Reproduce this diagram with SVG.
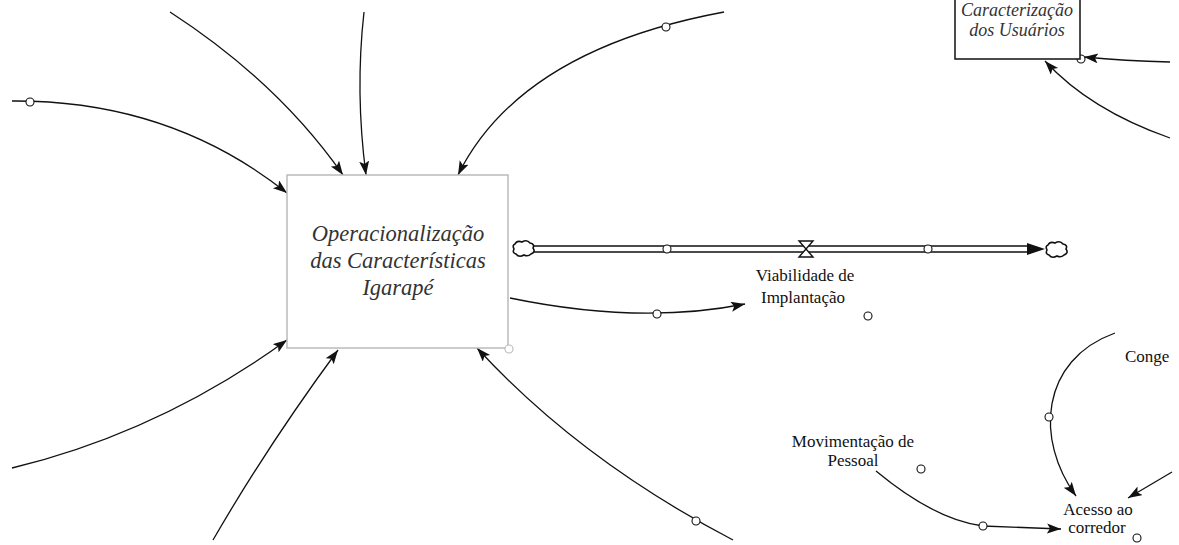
<svg xmlns="http://www.w3.org/2000/svg" width="1179" height="545" viewBox="0 0 1179 545">
<style>
.lnk{fill:none;stroke:#111;stroke-width:1.3}
.dot{fill:#fff;stroke:#111;stroke-width:1.1}
.var{font-family:"Liberation Serif","Times New Roman",serif;font-size:17px;fill:#111;text-anchor:middle}
.lvl{font-family:"Liberation Serif","Times New Roman",serif;font-style:italic;fill:#333;text-anchor:middle}
.pipe{fill:none;stroke:#111;stroke-width:1.4}
.cloud{fill:#fff;stroke:#111;stroke-width:1.6}
</style>
<defs>
<marker id="ah" markerUnits="userSpaceOnUse" markerWidth="16" markerHeight="12" refX="14" refY="5" orient="auto">
<path d="M0,0 L14,5 L0,10 L3,5 Z" fill="#111"/>
</marker>
</defs>
<rect width="1179" height="545" fill="#fff"/>

<g id="connectors">
<path class="lnk" d="M12,101 Q170,100 287,193" marker-end="url(#ah)"/>
<path class="lnk" d="M170,12 Q278,82 343,175" marker-end="url(#ah)"/>
<path class="lnk" d="M364,12 Q355,92 366,175" marker-end="url(#ah)"/>
<path class="lnk" d="M724,12 Q520,50 458,175" marker-end="url(#ah)"/>
<path class="lnk" d="M12,468 Q160,432 287,340" marker-end="url(#ah)"/>
<path class="lnk" d="M213,540 Q268,445 338,350" marker-end="url(#ah)"/>
<path class="lnk" d="M733,540 Q580,460 477,348" marker-end="url(#ah)"/>
<path class="lnk" d="M510,298 Q640,325 745,304" marker-end="url(#ah)"/>
<path class="lnk" d="M1170,62 Q1125,61 1084,57" marker-end="url(#ah)"/>
<path class="lnk" d="M1170,138 Q1090,110 1045,61" marker-end="url(#ah)"/>
<path class="lnk" d="M1115,333 C1040,360 1035,440 1076,496" marker-end="url(#ah)"/>
<path class="lnk" d="M876,471 Q935,520 983,526 L1061,529" marker-end="url(#ah)"/>
<path class="lnk" d="M1172,472 L1128,498" marker-end="url(#ah)"/>
<circle class="dot" cx="30" cy="102" r="4"/>
<circle class="dot" cx="666" cy="27" r="4"/>
<circle class="dot" cx="696" cy="521" r="4"/>
<circle class="dot" cx="657" cy="314" r="4"/>
<circle class="dot" cx="1081" cy="59" r="4"/>
<circle class="dot" cx="1049" cy="417" r="4"/>
<circle class="dot" cx="983" cy="526" r="4"/>
</g>

<g id="flow">
<path class="pipe" d="M533,246 L1030,246 M533,252 L1030,252"/>
<path d="M1027,243 L1045,249 L1027,255 Z" fill="#111"/>
<path class="cloud" d="M515,244 q2,-4 7,-2 q5,-3 8,1 q5,1 3,5 q3,4 -2,6 q-3,3 -7,1 q-5,3 -8,-1 q-4,-1 -2,-5 q-2,-4 1,-5 Z"/>
<path class="cloud" d="M1048,245 q2,-4 7,-2 q5,-3 8,1 q5,1 3,5 q3,4 -2,6 q-3,3 -7,1 q-5,3 -8,-1 q-4,-1 -2,-5 q-2,-4 1,-5 Z"/>
<circle class="dot" cx="667" cy="249" r="4"/>
<circle class="dot" cx="928" cy="249" r="4"/>
<path d="M799,241 L813,241 L799,257 L813,257 Z" fill="#fff" stroke="#111" stroke-width="1.4"/>
</g>

<g id="node-operacionalizacao">
<rect x="287" y="175" width="221" height="173" fill="#fff" stroke="#bbb" stroke-width="1.5"/>
<circle cx="509" cy="349" r="4" fill="#fff" stroke="#bbb" stroke-width="1.1"/>
<text class="lvl" font-size="22.5" x="398" y="241">Operacionalização</text>
<text class="lvl" font-size="22.5" x="398" y="268">das Características</text>
<text class="lvl" font-size="22.5" x="398" y="295">Igarapé</text>
</g>

<g id="node-caracterizacao">
<rect x="955" y="-30" width="125" height="89" fill="#fff" stroke="#111" stroke-width="1.5"/>
<text class="lvl" font-size="18" x="1017" y="16">Caracterização</text>
<text class="lvl" font-size="18" x="1017" y="36">dos Usuários</text>
</g>

<g id="node-viabilidade">
<text class="var" x="805" y="281">Viabilidade de</text>
<text class="var" x="803" y="303">Implantação</text>
<circle class="dot" cx="868" cy="316" r="4"/>
</g>

<g id="node-movimentacao">
<text class="var" x="853" y="447">Movimentação de</text>
<text class="var" x="853" y="466">Pessoal</text>
<circle class="dot" cx="921" cy="469" r="4"/>
</g>

<g id="node-acesso">
<text class="var" x="1098" y="515">Acesso ao</text>
<text class="var" x="1097" y="533">corredor</text>
<circle class="dot" cx="1137" cy="538" r="4"/>
</g>

<g id="node-conge">
<text class="var" x="1125" y="362" style="text-anchor:start">Conge</text>
</g>
</svg>
